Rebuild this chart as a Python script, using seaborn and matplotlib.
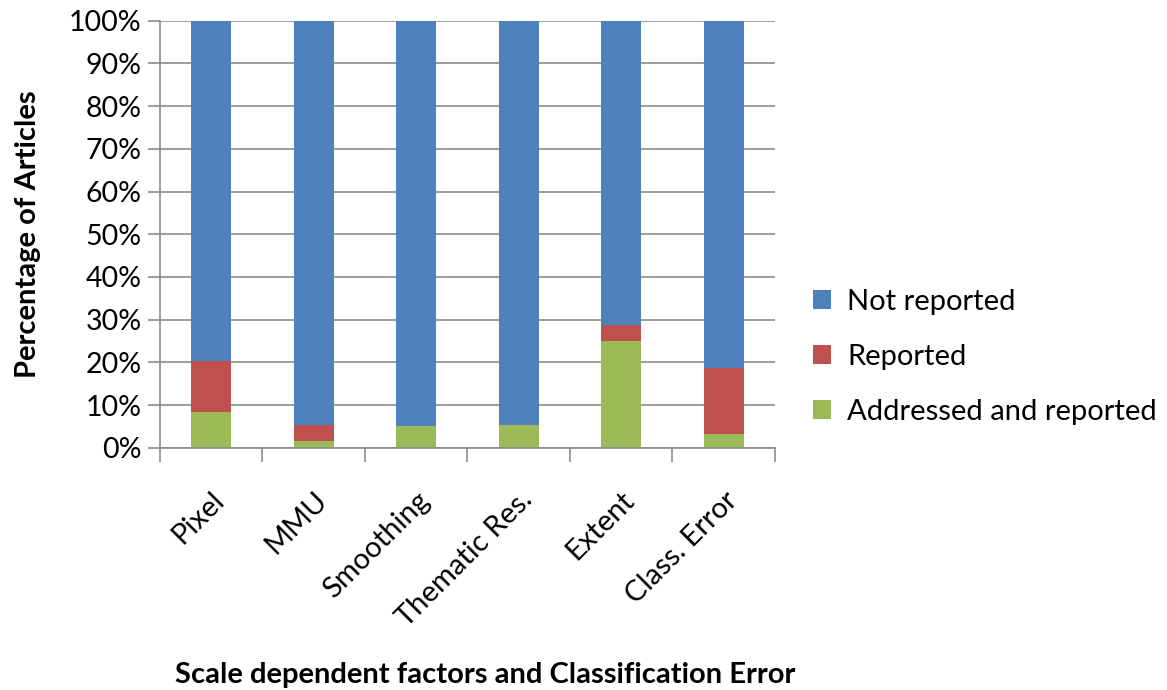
import matplotlib
matplotlib.use("Agg")
import matplotlib.pyplot as plt
import seaborn as sns
import pandas as pd
from matplotlib.patches import Patch
from matplotlib.ticker import FixedLocator, PercentFormatter

categories = ["Pixel", "MMU", "Smoothing", "Thematic Res.", "Extent", "Class. Error"]
addressed_and_reported = [8.3, 1.6, 5.0, 5.3, 25.1, 3.3]
reported = [12.0, 3.7, 0.0, 0.0, 3.6, 15.4]
not_reported = [79.7, 94.7, 95.0, 94.7, 71.3, 81.3]

series_names = ["Not reported", "Reported", "Addressed and reported"]
colors = {"Not reported": "#4F81BD", "Reported": "#C0504D",
          "Addressed and reported": "#9BBB59"}

df = pd.DataFrame({
    "category": categories,
    "green_top": addressed_and_reported,
    "red_top": [a + r for a, r in zip(addressed_and_reported, reported)],
    "blue_top": [a + r + n for a, r, n in zip(addressed_and_reported, reported, not_reported)],
})

sns.set_theme(style="white")
plt.rcParams["font.family"] = ["Lato", "DejaVu Sans"]
plt.rcParams["text.color"] = "black"
plt.rcParams["xtick.color"] = "black"
plt.rcParams["ytick.color"] = "black"
plt.rcParams["axes.labelcolor"] = "black"

fig = plt.figure(figsize=(11.67, 6.9), dpi=100)
ax = fig.add_axes([0.137, 0.351, 0.527, 0.619])

bar_w = 0.39
for col, name in [("blue_top", "Not reported"), ("red_top", "Reported"),
                  ("green_top", "Addressed and reported")]:
    sns.barplot(data=df, x="category", y=col, color=colors[name], width=bar_w,
                saturation=1, ax=ax, order=categories, linewidth=0)

ax.set_ylim(0, 100)
ax.set_xlim(-0.5, len(categories) - 0.5)
ax.yaxis.set_major_locator(FixedLocator(range(0, 101, 10)))
ax.yaxis.set_major_formatter(PercentFormatter(decimals=0))
ax.grid(axis="y", color="#8c8c8c", linewidth=1.2)
ax.set_axisbelow(True)

for side in ["top", "right"]:
    ax.spines[side].set_visible(False)
for side in ["left", "bottom"]:
    ax.spines[side].set_color("#8c8c8c")
    ax.spines[side].set_linewidth(1.2)

ax.tick_params(axis="y", which="major", direction="out", length=9, width=1.2,
               color="#8c8c8c", labelsize=20.5, labelcolor="black", left=True, pad=4)
ax.xaxis.set_minor_locator(FixedLocator([i - 0.5 for i in range(len(categories) + 1)]))
ax.tick_params(axis="x", which="minor", direction="out", length=10, width=1.2,
               color="#8c8c8c", bottom=True)
ax.tick_params(axis="x", which="major", length=0, labelsize=21, pad=28,
               labelcolor="black")
plt.setp(ax.get_xticklabels(), rotation=45, ha="right", rotation_mode="anchor")

ax.set_xlabel("")
ax.set_ylabel("Percentage of Articles", fontsize=21, fontweight="bold", labelpad=20)
fig.text(0.416, 0.003, "Scale dependent factors and Classification Error",
         ha="center", va="bottom", fontsize=21, fontweight="bold")

handles = [Patch(facecolor=colors[n], edgecolor="none") for n in series_names]
fig.legend(handles, series_names, loc="center left", bbox_to_anchor=(0.697, 0.483),
           frameon=False, fontsize=21, handlelength=0.6, handleheight=0.6,
           handletextpad=0.55, labelspacing=1.0, borderpad=0, borderaxespad=0)

fig.savefig("out.png", dpi=100)
